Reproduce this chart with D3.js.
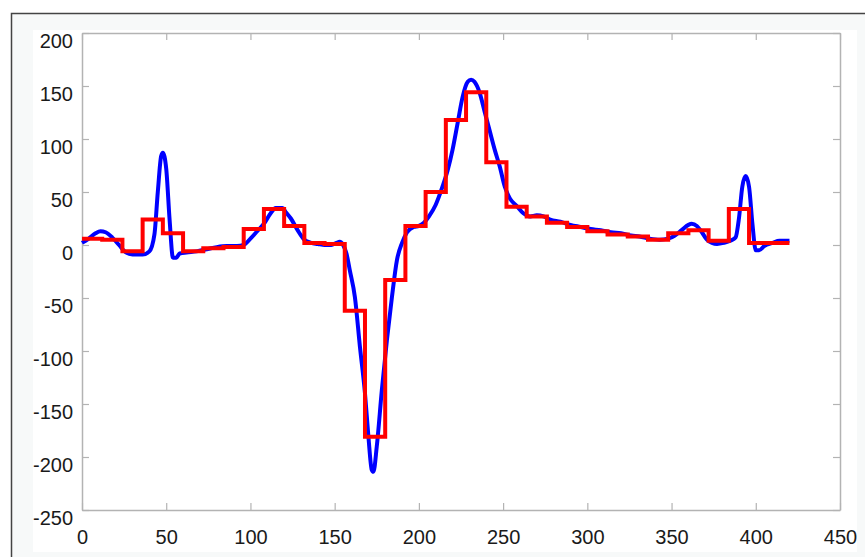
<!DOCTYPE html>
<html>
<head>
<meta charset="utf-8">
<script src="https://cdn.jsdelivr.net/npm/d3@7"></script>
<style>
    body { margin: 0; background: #ffffff; }
    svg { display: block; }
</style>
</head>
<body>
<div id="chart"></div>
<script>
(function () {
    // smooth signal (blue)
    var signalX = [0, 4, 8, 11, 14, 18, 22, 26, 30, 36, 40, 43, 45, 47, 48, 50, 52, 54, 56, 58,
        62, 68, 74, 80, 86, 92, 96, 100, 104, 108, 112, 115, 119, 121, 124, 128, 132, 136, 140, 144,
        148, 151, 153, 155, 157, 159, 162, 165, 168, 170, 172, 173, 175, 178, 181, 184, 187, 190, 193, 197,
        200, 203, 206, 210, 214, 217, 220, 223, 226, 229, 231, 233, 236, 239, 242, 245, 248, 251, 254, 258,
        262, 266, 270, 274, 278, 284, 290, 296, 302, 308, 314, 320, 326, 331, 337, 343, 348, 352, 356, 360,
        362, 365, 368, 371, 374, 377, 381, 385, 388, 390, 392, 394, 396, 398, 400, 402, 405, 410, 414, 420];
    var signalY = [2, 6, 11, 13, 12, 7, 0, -7, -9, -9, -6, 10, 50, 84, 87, 72, 24, -12, -12, -8,
        -7, -6, -4, -2, -1, -1, 0, 6, 13, 20, 30, 35, 35, 31, 25, 14, 5, 2, 1, 0,
        0, 2, 3, 0, -8, -24, -49, -96, -140, -180, -212, -214, -190, -137, -90, -49, -14, 2, 12, 17,
        18, 21, 27, 38, 55, 70, 90, 115, 140, 154, 156, 154, 144, 126, 108, 90, 74, 55, 44, 37,
        30, 27, 28, 27, 24, 22, 19, 17, 15, 14, 12, 11, 9, 8, 6, 5, 6, 9, 14, 19,
        20, 18, 12, 5, 2, 1, 2, 4, 7, 25, 55, 65, 55, 20, -5, -5, -1, 2, 4, 4];

    // piecewise constant approximation (red), window starts + levels
    var stepX = [0, 12, 24, 36, 48, 60, 72, 84, 96, 108, 120, 132, 144, 156, 168, 180, 192, 204,
        216, 228, 240, 252, 264, 276, 288, 300, 312, 324, 336, 348, 360, 372, 384, 396, 408, 420];
    var stepY = [6, 5, -6, 24, 11, -6, -3, -2, 15, 34, 18, 2, 1, -62, -181, -33, 18, 50,
        118, 144, 78, 36, 27, 21, 17, 13, 10, 8, 5, 11, 14, 4, 34, 2, 2, 2];

    var xTicks = [0, 50, 100, 150, 200, 250, 300, 350, 400, 450];
    var yTicks = [-250, -200, -150, -100, -50, 0, 50, 100, 150, 200];

    var width = 865;
    var height = 557;
    var margin = { top: 33, right: 25, bottom: 47, left: 82 };

    var svg = d3.select('#chart')
        .append('svg')
        .attr('width', width)
        .attr('height', height);

    // figure frame
    svg.append('rect')
        .attr('x', 11).attr('y', 13)
        .attr('width', width - 11).attr('height', height - 13)
        .attr('fill', '#f7f9f9');
    svg.append('path')
        .attr('d', 'M11.5,' + height + 'V13.5H' + width)
        .attr('fill', 'none')
        .attr('stroke', '#444')
        .attr('stroke-width', 1.5);
    svg.append('rect')
        .attr('x', 33).attr('y', 30)
        .attr('width', 824).attr('height', 522)
        .attr('fill', '#ffffff');

    var x = d3.scaleLinear()
        .domain([0, 450])
        .range([margin.left, width - margin.right]);

    var y = d3.scaleLinear()
        .domain([-250, 200])
        .range([height - margin.bottom, margin.top]);

    var axisColor = '#b3b3b3';
    var tickLen = 7;
    var fmt = function(d) { return String(d); };

    function styleAxis(g) {
        g.attr('font-family', 'Liberation Sans, Arial, sans-serif').attr('font-size', 20);
        g.select('.domain').attr('stroke', axisColor).attr('stroke-width', 1.5);
        g.selectAll('.tick line').attr('stroke', axisColor).attr('stroke-width', 1.2);
        g.selectAll('.tick text').attr('fill', '#1a1a1a');
    }

    var gx = svg.append('g')
        .attr('transform', 'translate(0,' + y(-250) + ')')
        .call(d3.axisBottom(x).tickValues(xTicks).tickFormat(fmt).tickSize(-tickLen).tickSizeOuter(0).tickPadding(17));
    styleAxis(gx);
    gx.selectAll('.tick text').attr('dy', '0.85em');

    var gy = svg.append('g')
        .attr('transform', 'translate(' + x(0) + ',0)')
        .call(d3.axisLeft(y).tickValues(yTicks).tickFormat(fmt).tickSize(-tickLen).tickSizeOuter(0).tickPadding(9));
    styleAxis(gy);
    gy.selectAll('.tick text').attr('dy', '1.0em').attr('y', -6);

    var gt = svg.append('g')
        .attr('transform', 'translate(0,' + y(200) + ')')
        .call(d3.axisTop(x).tickValues(xTicks).tickSize(-tickLen).tickSizeOuter(0).tickFormat(''));
    styleAxis(gt);

    var gr = svg.append('g')
        .attr('transform', 'translate(' + x(450) + ',0)')
        .call(d3.axisRight(y).tickValues(yTicks).tickSize(-tickLen).tickSizeOuter(0).tickFormat(''));
    styleAxis(gr);

    var signal = signalX.map(function(d, i) { return [d, signalY[i]]; });
    var steps = stepX.map(function(d, i) { return [d, stepY[i]]; });

    var smoothLine = d3.line()
        .x(function(d) { return x(d[0]); })
        .y(function(d) { return y(d[1]); })
        .curve(d3.curveMonotoneX);

    var stepLine = d3.line()
        .x(function(d) { return x(d[0]); })
        .y(function(d) { return y(d[1]); })
        .curve(d3.curveStepAfter);

    svg.append('path')
        .datum(signal)
        .attr('d', smoothLine)
        .attr('fill', 'none')
        .attr('stroke', '#0000ff')
        .attr('stroke-width', 4)
        .attr('stroke-linejoin', 'round');

    svg.append('path')
        .datum(steps)
        .attr('d', stepLine)
        .attr('fill', 'none')
        .attr('stroke', '#ff0000')
        .attr('stroke-width', 4)
        .attr('stroke-linejoin', 'miter');
})();
</script>
</body>
</html>
